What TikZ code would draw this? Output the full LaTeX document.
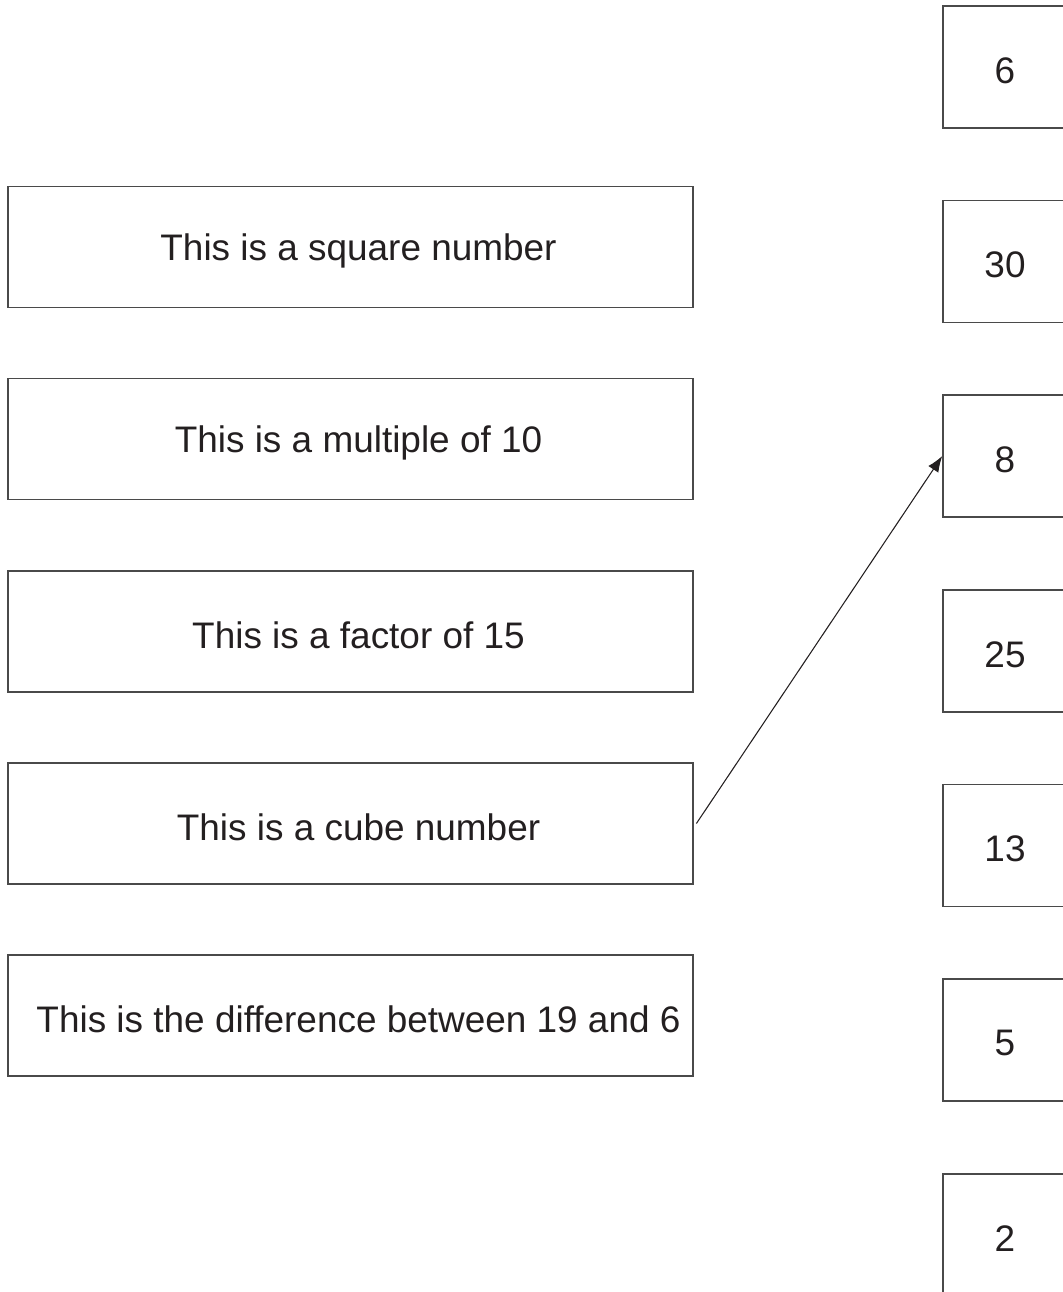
\documentclass[tikz,border=0pt]{standalone}
\usepackage{fontspec}
\setmainfont[Ligatures=NoCommon]{Liberation Sans}
\usetikzlibrary{arrows.meta}
\definecolor{edge}{HTML}{4A4A4A}
\definecolor{ink}{HTML}{231F20}
\begin{document}
\begin{tikzpicture}[x=0.75pt,y=-0.75pt,
  statement/.style={draw=edge,line width=1.1pt,minimum width=513.75pt,minimum height=90.75pt,inner sep=0pt},
  numbox/.style={draw=edge,line width=1.1pt,minimum width=93pt,minimum height=91.5pt,inner sep=0pt},
  stext/.style={text=ink,font=\fontsize{27.7}{33}\selectfont,xshift=6pt,yshift=-3pt},
  ntext/.style={text=ink,font=\fontsize{27.7}{33}\selectfont,yshift=-2.5pt}]
\useasboundingbox (0,0) rectangle (1063,1292);

% statements on the left
\node[statement,label={[stext]center:This is a square number}] (square) at (350.5,247) {};
\node[statement,label={[stext]center:This is a multiple of 10}] (mult) at (350.5,439) {};
\node[statement,label={[stext]center:This is a factor of 15}] (factor) at (350.5,631.5) {};
\node[statement,label={[stext]center:This is a cube number}] (cube) at (350.5,823.5) {};
\node[statement,label={[stext]center:This is the difference between 19 and 6}] (diff) at (350.5,1015.5) {};

% numbers on the right, running off the page edge
\begin{scope}
\clip (0,0) rectangle (1063,1292);
\node[numbox,label={[ntext]center:6}] (six) at (1005,67) {};
\node[numbox,label={[ntext]center:30}] (thirty) at (1005,261.5) {};
\node[numbox,label={[ntext]center:8}] (eight) at (1005,456) {};
\node[numbox,label={[ntext]center:25}] (twentyfive) at (1005,651) {};
\node[numbox,label={[ntext]center:13}] (thirteen) at (1005,845.5) {};
\node[numbox,label={[ntext]center:5}] (five) at (1005,1040) {};
\node[numbox,label={[ntext]center:2}] (two) at (1005,1235) {};
\end{scope}

% worked example
\draw[ink,line width=0.8pt,-{Latex[length=12pt,width=9pt]}] ([xshift=2pt]cube.east) -- (eight.west);
\end{tikzpicture}
\end{document}
